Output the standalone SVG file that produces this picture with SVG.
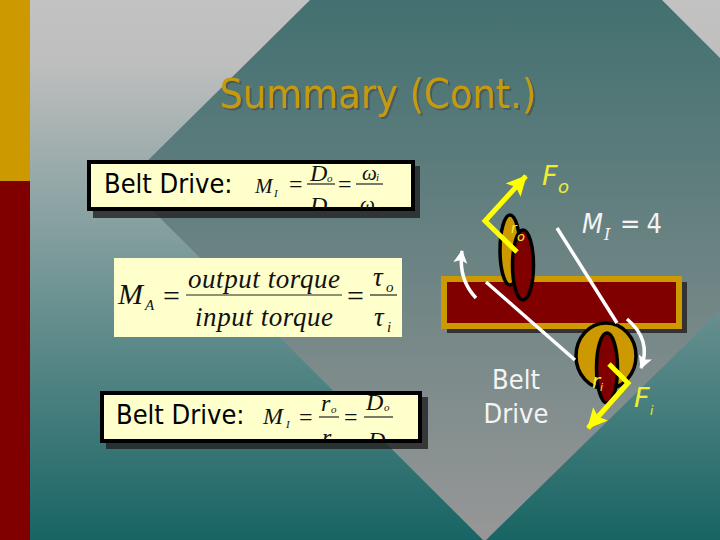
<svg xmlns="http://www.w3.org/2000/svg" width="720" height="540" viewBox="0 0 720 540">
<style>
.sans{font-family:"DejaVu Sans Condensed","DejaVu Sans",sans-serif}
.serif{font-family:"Liberation Serif",serif;font-style:italic;fill:#111}
.up{font-family:"Liberation Serif",serif;fill:#111}
.eqline{stroke:#222;stroke-width:1.2;fill:none}
.lab{font-family:"DejaVu Sans","Liberation Sans",sans-serif;font-style:italic;fill:#eeee33}
.w{font-family:"DejaVu Sans Condensed","DejaVu Sans",sans-serif;fill:#f4f4f4}
.box{fill:#ffffcc;stroke:#000;stroke-width:4}
.shadow{fill:#222;opacity:.8}
.belt{stroke:#fff;stroke-width:3.5;fill:none}
.yarrow{stroke:#ffff00;stroke-width:5;fill:none;stroke-linejoin:miter}
.wcurve{stroke:#fff;stroke-width:3.5;fill:none}
.pulley{stroke:#000;stroke-width:3.5}
</style>
<defs>
<linearGradient id="bg" x1="0" y1="0" x2="0" y2="1"><stop offset="0" stop-color="#c2c2c2"/><stop offset="0.12" stop-color="#bebebe"/><stop offset="1" stop-color="#186464"/></linearGradient>
<linearGradient id="dm" gradientUnits="userSpaceOnUse" x1="0" y1="0" x2="0" y2="540"><stop offset="0" stop-color="#437070"/><stop offset="1" stop-color="#979797"/></linearGradient>
<filter id="ts" x="-5%" y="-20%" width="110%" height="140%"><feDropShadow dx="2" dy="2" stdDeviation="0.6" flood-color="#444" flood-opacity=".55"/></filter>
<marker id="ya" markerUnits="userSpaceOnUse" markerWidth="22" markerHeight="22" refX="19" refY="10" orient="auto"><polygon points="0,0 20,10 0,20 4,10" fill="#ffff00"/></marker>
<marker id="wa" markerUnits="userSpaceOnUse" markerWidth="14" markerHeight="16" refX="12" refY="7" orient="auto"><polygon points="0,0 13,7 0,14 3,7" fill="#fff"/></marker>
<clipPath id="c1"><rect x="89" y="162" width="324" height="47"/></clipPath>
<clipPath id="c3"><rect x="102" y="393" width="318" height="47"/></clipPath>
</defs>
<rect width="720" height="540" fill="url(#bg)"/>
<polygon points="310,0 662,0 720,58 720,311 486,540 483,540 125,183" fill="url(#dm)"/>
<rect x="0" y="0" width="30" height="181" fill="#cc9900"/>
<rect x="0" y="181" width="30" height="359" fill="#800000"/>
<g id="title"><text x="378" y="108" text-anchor="middle" font-size="41" class="sans" fill="#c69a10" textLength="317" filter="url(#ts)">Summary (Cont.)</text></g>
<g id="eq-box-1">
<rect class="shadow" x="93" y="166" width="327" height="52"/>
<rect class="box" x="89" y="162" width="324" height="47"/>
<text x="104" y="193" font-size="27" class="sans" fill="#000">Belt Drive:</text>
<g clip-path="url(#c1)">
<text x="255" y="193" font-size="21" class="serif">M</text><text x="274" y="197" font-size="11" class="serif">I</text>
<text x="289" y="192" font-size="24" class="up">=</text>
<text x="310" y="181" font-size="24" class="serif">D</text><text x="327" y="182" font-size="11" class="serif">o</text>
<line class="eqline" x1="307" y1="184" x2="335" y2="184"/>
<text x="310" y="213" font-size="24" class="serif">D</text><text x="328" y="214" font-size="11" class="serif">i</text>
<text x="338" y="192" font-size="24" class="up">=</text>
<text x="362" y="180" font-size="21" class="serif">ω</text><text x="376" y="181" font-size="11" class="serif">i</text>
<line class="eqline" x1="356" y1="184" x2="383" y2="184"/>
<text x="360" y="211" font-size="21" class="serif">ω</text><text x="375" y="212" font-size="11" class="serif">o</text>
</g>
</g>
<g id="eq-box-2">
<rect x="114" y="258" width="288" height="79" fill="#ffffcc"/>
<text x="118" y="304" font-size="30" class="serif">M</text><text x="145" y="310" font-size="15" class="serif">A</text>
<text x="163" y="306" font-size="30" class="up">=</text>
<text x="188" y="288" font-size="27" class="serif" textLength="152">output  torque</text>
<line class="eqline" x1="186" y1="295" x2="342" y2="295"/>
<text x="195" y="326" font-size="27" class="serif" textLength="138">input  torque</text>
<text x="347" y="306" font-size="30" class="up">=</text>
<text x="373" y="286" font-size="27" class="serif">τ</text><text x="386" y="292" font-size="15" class="serif">o</text>
<line class="eqline" x1="370" y1="295" x2="397" y2="295"/>
<text x="374" y="326" font-size="27" class="serif">τ</text><text x="387" y="332" font-size="15" class="serif">i</text>
</g>
<g id="eq-box-3">
<rect class="shadow" x="106" y="397" width="322" height="52"/>
<rect class="box" x="102" y="393" width="318" height="48"/>
<text x="116" y="424" font-size="27" class="sans" fill="#000">Belt Drive:</text>
<g clip-path="url(#c3)">
<text x="263" y="424" font-size="24" class="serif">M</text><text x="286" y="428" font-size="11" class="serif">I</text>
<text x="299" y="425" font-size="24" class="up">=</text>
<text x="321" y="411" font-size="24" class="serif">r</text><text x="331" y="413" font-size="11" class="serif">o</text>
<line class="eqline" x1="319" y1="417" x2="339" y2="417"/>
<text x="322" y="445" font-size="24" class="serif">r</text><text x="332" y="447" font-size="11" class="serif">i</text>
<text x="344" y="425" font-size="24" class="up">=</text>
<text x="366" y="410" font-size="24" class="serif">D</text><text x="384" y="411" font-size="11" class="serif">o</text>
<line class="eqline" x1="364" y1="417" x2="393" y2="417"/>
<text x="368" y="448" font-size="24" class="serif">D</text>
</g>
</g>
<g id="bar"><rect x="447" y="282" width="240" height="51" fill="#333"/><rect x="444" y="279" width="235" height="47" fill="#800000" stroke="#cc9900" stroke-width="6"/></g>
<g id="pulley-output"><ellipse class="pulley" cx="510" cy="250" rx="10" ry="35" fill="#cc9900"/><ellipse class="pulley" cx="523" cy="265" rx="10.5" ry="35" fill="#800000"/></g>
<g id="pulley-input"><ellipse class="pulley" cx="606" cy="356" rx="30" ry="33" fill="#cc9900"/><ellipse class="pulley" cx="607" cy="368" rx="10.5" ry="35" fill="#800000"/></g>
<g id="connectors">
<line class="belt" x1="557" y1="228" x2="617" y2="323"/>
<line class="belt" x1="486" y1="282" x2="575" y2="360"/>
<path class="wcurve" d="M476,298 Q458,279 462,251" marker-end="url(#wa)"/>
<path class="wcurve" d="M627,319 Q652,340 641,368" marker-end="url(#wa)"/>
<polyline class="yarrow" points="517,252 485,221 526,176" marker-end="url(#ya)"/>
<polyline class="yarrow" points="609,364 628,383 588,428" marker-end="url(#ya)"/>
</g>
<g id="labels">
<text x="542" y="185" font-size="27" class="lab">F</text><text x="558" y="193" font-size="18" class="lab">o</text>
<text x="511" y="233" font-size="14" class="lab">r</text><text x="517" y="241" font-size="13" class="lab">o</text>
<text x="582" y="233" font-size="27" class="w" font-style="italic">M</text><text x="604" y="240" font-size="16" font-family="DejaVu Serif, serif" font-style="italic" fill="#f4f4f4">I</text><text x="620" y="233" font-size="27" class="w" textLength="42">= 4</text>
<text x="516" y="389" font-size="27" class="w" text-anchor="middle">Belt</text><text x="516" y="423" font-size="27" class="w" text-anchor="middle">Drive</text>
<text x="592" y="388" font-size="20" class="lab">r</text><text x="600" y="391" font-size="11" class="lab">i</text>
<text x="634" y="407" font-size="27" class="lab">F</text><text x="650" y="415" font-size="12" class="lab">i</text>
</g>
</svg>
